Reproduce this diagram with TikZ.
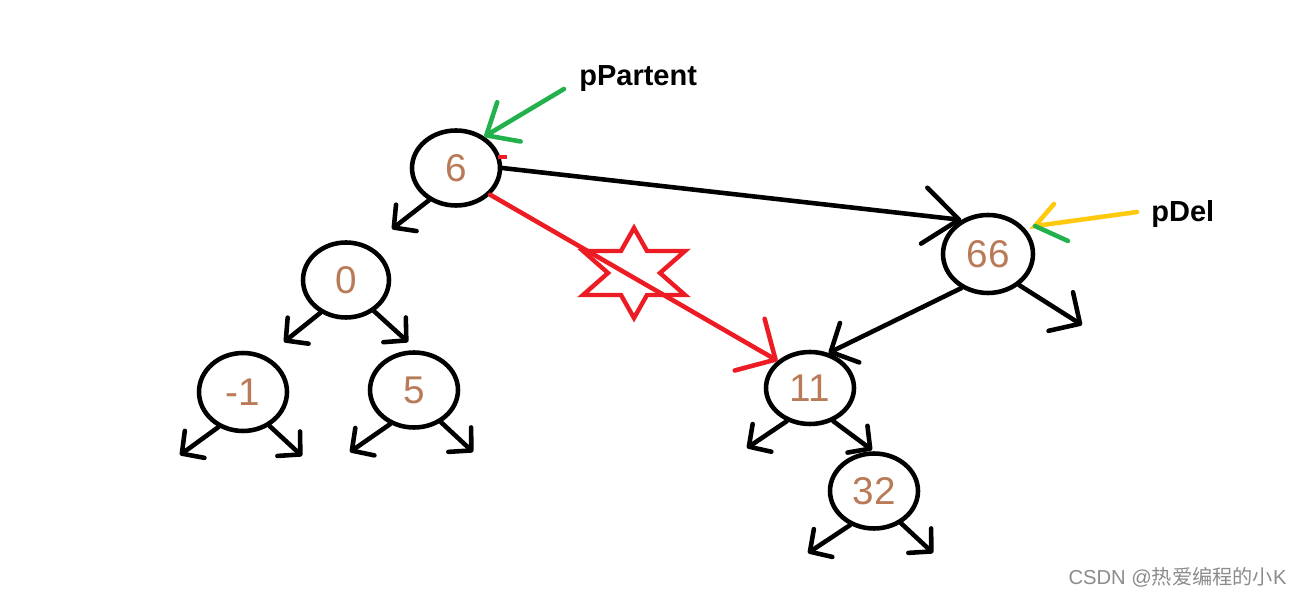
\documentclass[tikz,border=0pt]{standalone}
\usepackage{fontspec}
\setmainfont{Liberation Sans}
\newfontfamily\cjk{Noto Sans CJK SC}
\usetikzlibrary{arrows.meta,shapes.geometric}
\definecolor{pred}{RGB}{237,28,36}
\definecolor{pgreen}{RGB}{34,177,76}
\definecolor{pyellow}{RGB}{255,201,14}
\definecolor{pbrown}{RGB}{185,122,87}
\begin{document}
\begin{tikzpicture}[x=0.02cm,y=-0.02cm,
  tnode/.style={ellipse,draw=black,line width=2.6pt,minimum width=1.76cm,minimum height=1.5cm,
    inner sep=0pt,text=pbrown,font=\fontsize{22}{22}\selectfont},
  edge/.style={line width=2.6pt,line cap=round,-{Straight Barb[length=9pt,width=19pt,round]}},
  lbl/.style={font=\fontsize{16.5}{16.5}\selectfont\bfseries,inner sep=0pt}]
\useasboundingbox[fill=white] (0,0) rectangle (1302,597);
% tree nodes
\node[tnode] (n6)  at (456,168) {6};
\node[tnode,minimum width=1.72cm] (n0)  at (346,280) {0};
\node[tnode,minimum height=1.56cm] (nm1) at (243,392) {-1};
\node[tnode] (n5)  at (414,390) {5};
\node[tnode,minimum width=1.8cm,minimum height=1.56cm] (n66) at (988,254) {66};
\node[tnode,minimum height=1.44cm] (n11) at (810,388) {11};
\node[tnode] (n32) at (874,491) {32};
% free ends of null children
\coordinate (c6L) at (392,229);
\coordinate (c0L) at (284,342);
\coordinate (c0R) at (408,342);
\coordinate (cm1L) at (180,455);
\coordinate (cm1R) at (302,456);
\coordinate (c5L) at (350,452);
\coordinate (c5R) at (473,452);
\coordinate (c11L) at (747,448);
\coordinate (c11R) at (872,450);
\coordinate (c32L) at (808,553);
\coordinate (c32R) at (933,553);
\coordinate (c66R) at (1082,325);
% child arrows
\draw[edge] (n6.-130) -- (c6L);
\draw[edge] (n0.-128) -- (c0L);
\draw[edge] (n0.-48) -- (c0R);
\draw[edge] (nm1.-125) -- (cm1L);
\draw[edge] (nm1.-52) -- (cm1R);
\draw[edge] (n5.-125) -- (c5L);
\draw[edge] (n5.-50) -- (c5R);
\draw[edge] (n11.-125) -- (c11L);
\draw[edge] (n11.-55) -- (c11R);
\draw[edge] (n32.-125) -- (c32L);
\draw[edge] (n32.-50) -- (c32R);
\draw[edge,-{Straight Barb[length=13pt,width=26pt,round]}] (n66.-45) -- (c66R);
\draw[edge,-{Straight Barb[length=12pt,width=25pt,round]}] (n66.-128) -- (n11.62);
\draw[edge,-{Straight Barb[length=20pt,width=32pt,round]}] (n6.east) -- (n66.128);
% red arrow and star
\draw[edge,pred,-{Straight Barb[length=17pt,width=34pt,round]}] (n6.-38) -- (n11.140);
\begin{scope}[shift={(634,273)}]
\draw[pred,line width=2.5pt,line join=miter]
  (0,-45) -- (13,-22) -- (51,-22) -- (26,0) -- (51,22) -- (13,22) -- (0,45)
  -- (-13,22) -- (-51,22) -- (-26,0) -- (-51,-22) -- (-13,-22) -- cycle;
\end{scope}
\coordinate (rt1) at (498,157);
\draw[pred,line width=1.8pt] (rt1) -- ++(9,0);
% pointers
\node[lbl,anchor=west] (lp) at (579,79) {pPartent};
\node[lbl,anchor=west] (ld) at (1151,214) {pDel};
\coordinate (gs) at (564,89);
\draw[pgreen,line width=2.6pt,line cap=round,-{Straight Barb[length=15pt,width=26pt,round]}] (gs) -- (n6.48);
\coordinate (ys) at (1137,212);
\coordinate (yt) at (1035,226);
\draw[pyellow,line width=2.6pt,line cap=round] (ys) -- (yt) -- ++(19,-22);
\draw[pgreen,line width=2.6pt,line cap=round] (yt) -- ++(33,15);
% watermark
\node[anchor=east,text=black!45,font=\fontsize{11.5}{11.5}\selectfont,inner sep=0pt] (wm) at (1287,577) {CSDN @{\cjk 热爱编程的小}K};
\end{tikzpicture}
\end{document}
